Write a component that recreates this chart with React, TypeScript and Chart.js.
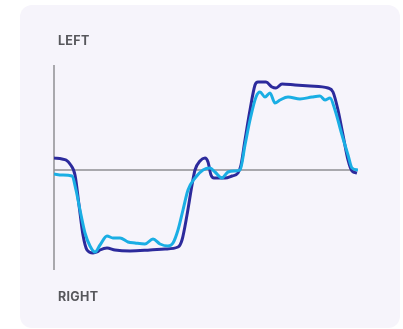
import React, { useEffect, useRef } from "react";
import { Chart, registerables } from "chart.js";

Chart.register(...registerables);

// time positions (arbitrary units) and values (positive = LEFT, negative = RIGHT)
const darkX = [0, 8, 12, 16, 21, 25, 29, 33, 39, 43, 46, 53, 61, 76, 96, 111, 124, 128, 133, 138, 141, 146, 151, 154, 157, 160, 171, 178, 184, 187, 191, 196, 201, 204, 212, 218, 222, 228, 241, 256, 274, 279, 284, 289, 294, 298, 303];
const darkY = [12, 11, 10, 6, -5, -35, -65, -80, -83, -82, -80, -78, -80, -81, -80, -79, -77, -70, -45, -15, 0, 9, 12, 8, -5, -8, -8, -6, -3, 5, 30, 60, 85, 88, 88, 83, 82, 86, 85, 84, 82, 78, 60, 35, 10, -1, -3];

const lightX = [0, 8, 18, 22, 26, 31, 36, 41, 46, 53, 59, 66, 74, 81, 91, 99, 106, 114, 119, 124, 129, 134, 141, 149, 156, 161, 168, 174, 181, 186, 191, 196, 202, 206, 211, 216, 221, 226, 234, 246, 258, 266, 271, 276, 281, 288, 294, 298, 304];
const lightY = [-4, -5, -6, -20, -40, -63, -76, -82, -75, -66, -68, -68, -72, -73, -74, -69, -74, -76, -73, -60, -40, -20, -8, 0, 2, -2, -8, -2, -1, 0, 25, 50, 73, 78, 73, 77, 67, 70, 73, 71, 73, 74, 70, 72, 60, 35, 15, 2, 0];

const topLabel = "LEFT";
const bottomLabel = "RIGHT";

const toPoints = (xs: number[], ys: number[]) => xs.map((x, i) => ({ x, y: ys[i] }));

const axesPlugin = {
  id: "axesLines",
  beforeDatasetsDraw(chart: any) {
    const { ctx, chartArea, scales } = chart;
    const x0 = scales.x.getPixelForValue(0);
    const y0 = scales.y.getPixelForValue(0);
    ctx.save();
    ctx.strokeStyle = "#8f8f93";
    ctx.lineWidth = 1.5;
    ctx.beginPath();
    ctx.moveTo(x0, chartArea.top);
    ctx.lineTo(x0, chartArea.bottom);
    ctx.stroke();
    ctx.beginPath();
    ctx.moveTo(x0, y0);
    ctx.lineTo(scales.x.getPixelForValue(303), y0);
    ctx.stroke();
    ctx.restore();
  },
};

export default function App() {
  const ref = useRef<HTMLCanvasElement>(null);
  useEffect(() => {
    if (!ref.current) return;
    const chart = new Chart(ref.current, {
      type: "line",
      data: {
        datasets: [
          {
            data: toPoints(lightX, lightY),
            borderColor: "#1aaee4",
            borderWidth: 3,
            pointRadius: 0,
            tension: 0.4,
            cubicInterpolationMode: "monotone",
          },
          {
            data: toPoints(darkX, darkY),
            borderColor: "#2c2a9c",
            borderWidth: 3,
            pointRadius: 0,
            tension: 0.4,
            cubicInterpolationMode: "monotone",
          },
        ],
      },
      options: {
        animation: false,
        responsive: false,
        maintainAspectRatio: false,
        layout: { padding: { left: 54, right: 45, top: 65, bottom: 59 } },
        plugins: { legend: { display: false }, tooltip: { enabled: false } },
        scales: {
          x: { type: "linear", min: 0, max: 304, display: false },
          y: { min: -100, max: 105, display: false },
        },
      },
      plugins: [axesPlugin],
    });
    return () => chart.destroy();
  }, []);

  const labelStyle: React.CSSProperties = {
    position: "absolute",
    left: 58,
    fontFamily: "Inter, 'Open Sans', sans-serif",
    fontWeight: 700,
    fontSize: 12.5,
    lineHeight: "15px",
    color: "#57575c",
    letterSpacing: 0.3,
  };

  return (
    <div style={{ position: "fixed", left: 0, top: 0, width: 403, height: 329, background: "#ffffff", overflow: "hidden" }}>
      <div
        style={{
          position: "absolute",
          left: 20,
          top: 5,
          width: 380,
          height: 323,
          borderRadius: 12,
          background: "#f6f4fb",
        }}
      />
      <canvas ref={ref} width={403} height={329} style={{ position: "absolute", left: 0, top: 0, width: 403, height: 329 }} />
      <div style={{ ...labelStyle, top: 33 }}>{topLabel}</div>
      <div style={{ ...labelStyle, top: 289 }}>{bottomLabel}</div>
    </div>
  );
}
